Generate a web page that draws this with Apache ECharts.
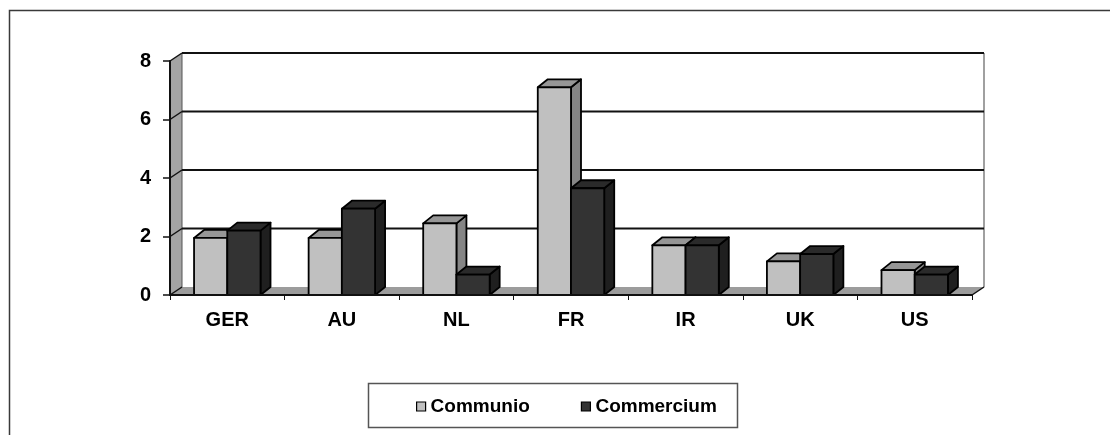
<!DOCTYPE html>
<html>
<head>
<meta charset="utf-8">
<title>Communio vs Commercium</title>
<script src="https://cdn.jsdelivr.net/npm/echarts@6/dist/echarts.min.js"></script>
<style>
  html, body { margin: 0; padding: 0; background: #fff; }
  #chart { width: 1110px; height: 435px; }
</style>
</head>
<body>
<div id="chart"></div>
<script>
// Countries on the category axis
const categories = ['GER', 'AU', 'NL', 'FR', 'IR', 'UK', 'US'];
// Series values
const communio = [1.95, 1.95, 2.45, 7.1, 1.7, 1.15, 0.85];
const commercium = [2.2, 2.95, 0.7, 3.65, 1.7, 1.4, 0.7];
// Value-axis ticks
const yTicks = [0, 2, 4, 6, 8];

const FONT = '"Liberation Sans", Arial, sans-serif';
const WALL_DX = 12, WALL_DY = -8;   // depth of walls and floor
const BAR_DX = 10, BAR_DY = -8;     // depth of each column
const BAR_FRAC = 0.29;              // column width as a share of a category band

const chart = echarts.init(document.getElementById('chart'), null, { renderer: 'canvas' });

function pt(x, y) { return [x, y]; }

// Left wall and floor of the 3D plot box
function renderWalls(params, api) {
  const cs = params.coordSys;
  const xl = cs.x, xr = cs.x + cs.width;
  const yb = api.coord([0, 0])[1];
  const yt = api.coord([0, yTicks[yTicks.length - 1]])[1];
  const dark = '#111';
  return {
    type: 'group',
    children: [
      { type: 'polygon', shape: { points: [pt(xl, yb), pt(xl + WALL_DX, yb + WALL_DY), pt(xl + WALL_DX, yt + WALL_DY), pt(xl, yt)] },
        style: { fill: '#a4a4a4', stroke: null } },
      { type: 'polygon', shape: { points: [pt(xl, yb), pt(xr, yb), pt(xr + WALL_DX, yb + WALL_DY), pt(xl + WALL_DX, yb + WALL_DY)] },
        style: { fill: '#9c9c9c', stroke: null } },
      { type: 'line', shape: { x1: xl + WALL_DX, y1: yb + WALL_DY, x2: xl + WALL_DX, y2: yt + WALL_DY },
        style: { stroke: '#555', lineWidth: 1 } },
      { type: 'line', shape: { x1: xr + WALL_DX, y1: yb + WALL_DY, x2: xr + WALL_DX, y2: yt + WALL_DY },
        style: { stroke: '#a0a0a0', lineWidth: 2 } },
      { type: 'line', shape: { x1: xr, y1: yb, x2: xr + WALL_DX, y2: yb + WALL_DY },
        style: { stroke: dark, lineWidth: 1.5 } }
    ]
  };
}

// One gridline: diagonal across the left wall, then along the back wall
function renderGrid(params, api) {
  const cs = params.coordSys;
  const xl = cs.x, xr = cs.x + cs.width;
  const v = api.value(1);
  const y = api.coord([0, v])[1];
  const children = [
    { type: 'line', shape: { x1: xl, y1: y, x2: xl + WALL_DX, y2: y + WALL_DY },
      style: { stroke: '#111', lineWidth: 1.5 } }
  ];
  if (v > 0) {
    children.push({ type: 'line', shape: { x1: xl + WALL_DX, y1: y + WALL_DY, x2: xr + WALL_DX, y2: y + WALL_DY },
      style: { stroke: '#111', lineWidth: 2.2 } });
  }
  return { type: 'group', children: children };
}

// A 3D column: front, top and right side faces
function makeBarRenderer(side, colors) {
  return function (params, api) {
    const cat = api.value(0), val = api.value(1);
    const top = api.coord([cat, val]);
    const base = api.coord([cat, 0]);
    const band = api.size([1, 0])[0];
    const w = band * BAR_FRAC;
    const x0 = side < 0 ? top[0] - w : top[0];
    const x1 = x0 + w;
    const yt = top[1], yb = base[1];
    const edge = { stroke: '#000', lineWidth: 1.8, lineJoin: 'round' };
    return {
      type: 'group',
      children: [
        { type: 'polygon', shape: { points: [pt(x1, yt), pt(x1 + BAR_DX, yt + BAR_DY), pt(x1 + BAR_DX, yb + BAR_DY), pt(x1, yb)] },
          style: Object.assign({ fill: colors.side }, edge) },
        { type: 'polygon', shape: { points: [pt(x0, yt), pt(x0 + BAR_DX, yt + BAR_DY), pt(x1 + BAR_DX, yt + BAR_DY), pt(x1, yt)] },
          style: Object.assign({ fill: colors.top }, edge) },
        { type: 'polygon', shape: { points: [pt(x0, yt), pt(x1, yt), pt(x1, yb), pt(x0, yb)] },
          style: Object.assign({ fill: colors.front }, edge) }
      ]
    };
  };
}

const communioColors = { front: '#c0c0c0', top: '#969696', side: '#858585' };
const commerciumColors = { front: '#333333', top: '#2a2a2a', side: '#1f1f1f' };

const option = {
  animation: false,
  backgroundColor: '#ffffff',
  grid: { left: 170, right: 138, top: 61, bottom: 140, containLabel: false },
  xAxis: {
    type: 'category',
    data: categories,
    boundaryGap: true,
    z: 10,
    axisLine: { show: true, lineStyle: { color: '#111', width: 2 } },
    axisTick: { show: true, alignWithLabel: false, length: 5, lineStyle: { color: '#111', width: 1 } },
    axisLabel: { margin: 15, color: '#000', fontFamily: FONT, fontWeight: 'bold', fontSize: 20 },
    splitLine: { show: false }
  },
  yAxis: {
    type: 'value',
    min: 0, max: 8, interval: 2,
    z: 10,
    axisLine: { show: true, lineStyle: { color: '#111', width: 2 } },
    axisTick: { show: true, length: 7, lineStyle: { color: '#111', width: 1.5 } },
    axisLabel: { margin: 19, color: '#000', fontFamily: FONT, fontWeight: 'bold', fontSize: 20,
      formatter: function (v) { return String(v); } },
    splitLine: { show: false }
  },
  legend: {
    data: ['Communio', 'Commercium'],
    left: 416, top: 397,
    padding: 0,
    icon: 'rect',
    itemWidth: 9, itemHeight: 9,
    itemGap: 51,
    itemStyle: { borderColor: '#000', borderWidth: 1.2 },
    textStyle: { color: '#000', fontFamily: FONT, fontWeight: 'bold', fontSize: 19 }
  },
  graphic: [
    // chart-area frame
    { type: 'rect', left: 7, top: 8, shape: { width: 1200, height: 600 },
      style: { fill: null, stroke: '#3a3a3a', lineWidth: 1.5 }, silent: true, z: -10 },
    // legend frame
    { type: 'rect', left: 366, top: 381, shape: { width: 369, height: 44 },
      style: { fill: null, stroke: '#555', lineWidth: 1.5 }, silent: true, z: -10 }
  ],
  series: [
    { name: 'walls', type: 'custom', renderItem: renderWalls, data: [[0, 0]], z: 1, silent: true, clip: false },
    { name: 'grid', type: 'custom', renderItem: renderGrid,
      data: yTicks.map(function (v) { return [0, v]; }), z: 1.5, silent: true, clip: false },
    { name: 'Communio', type: 'custom', renderItem: makeBarRenderer(-1, communioColors),
      itemStyle: { color: '#c0c0c0' },
      data: communio.map(function (v, i) { return [i, v]; }), z: 3, clip: false },
    { name: 'Commercium', type: 'custom', renderItem: makeBarRenderer(1, commerciumColors),
      itemStyle: { color: '#333333' },
      data: commercium.map(function (v, i) { return [i, v]; }), z: 4, clip: false }
  ]
};

chart.setOption(option);
</script>
</body>
</html>
